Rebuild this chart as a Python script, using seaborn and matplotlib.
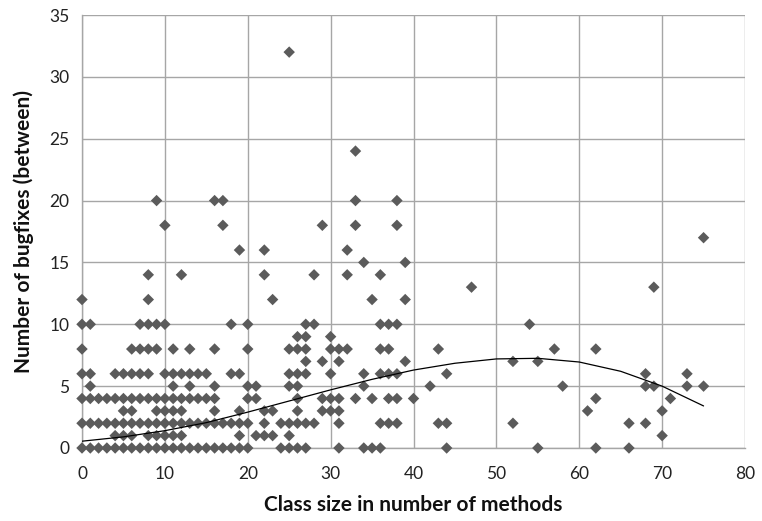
import matplotlib
matplotlib.use("Agg")
import matplotlib.pyplot as plt
import seaborn as sns
import pandas as pd

# ---- data (class size, bugfixes), grouped by bugfix level ----
bugfix_levels = [0, 1, 2, 3, 4, 5, 6, 7, 8, 9, 10, 12, 13, 14, 15, 16, 17, 18, 20, 24, 32]
sizes_at_0 = [0, 1, 2, 3, 4, 5, 6, 7, 8, 9, 10, 11, 12, 13, 14, 15, 16, 17, 18, 19, 20,
              24, 25, 26, 27, 31, 34, 35, 36, 44, 55, 62, 66]
sizes_at_1 = [4, 5, 6, 8, 9, 10, 11, 12, 19, 21, 22, 23, 25, 70]
sizes_at_2 = [0, 1, 2, 3, 4, 5, 6, 7, 8, 9, 10, 11, 12, 13, 14, 15, 16, 17, 18, 19, 20,
              22, 24, 25, 26, 27, 28, 31, 36, 37, 38, 43, 44, 52, 66, 68]
sizes_at_3 = [5, 6, 9, 10, 11, 12, 16, 19, 22, 23, 26, 29, 30, 31, 61, 70]
sizes_at_4 = [0, 1, 2, 3, 4, 5, 6, 7, 8, 9, 10, 11, 12, 13, 14, 15, 16,
              20, 21, 26, 29, 30, 31, 33, 35, 37, 38, 40, 62, 71]
sizes_at_5 = [1, 11, 13, 16, 20, 21, 25, 26, 34, 42, 58, 68, 69, 73, 75]
sizes_at_6 = [0, 1, 4, 5, 6, 7, 8, 10, 11, 12, 13, 14, 15, 18, 19, 25, 26, 27, 30, 34,
              36, 37, 38, 44, 68, 73]
sizes_at_7 = [27, 29, 31, 39, 52, 55]
sizes_at_8 = [0, 6, 7, 8, 9, 11, 13, 16, 20, 25, 26, 27, 30, 31, 32, 36, 37, 43, 57, 62]
sizes_at_9 = [26, 27, 30]
sizes_at_10 = [0, 1, 7, 8, 9, 10, 18, 20, 27, 28, 36, 37, 38, 54]
sizes_at_12 = [0, 8, 23, 35, 39]
sizes_at_13 = [47, 69]
sizes_at_14 = [8, 12, 22, 28, 32, 36]
sizes_at_15 = [34, 39]
sizes_at_16 = [19, 22, 32]
sizes_at_17 = [75]
sizes_at_18 = [10, 17, 29, 33, 38]
sizes_at_20 = [9, 16, 17, 33, 38]
sizes_at_24 = [33]
sizes_at_32 = [25]

sizes_per_level = [sizes_at_0, sizes_at_1, sizes_at_2, sizes_at_3, sizes_at_4, sizes_at_5,
                   sizes_at_6, sizes_at_7, sizes_at_8, sizes_at_9, sizes_at_10, sizes_at_12,
                   sizes_at_13, sizes_at_14, sizes_at_15, sizes_at_16, sizes_at_17,
                   sizes_at_18, sizes_at_20, sizes_at_24, sizes_at_32]

# trendline
trend_x = [0, 5, 10, 15, 20, 25, 30, 35, 40, 45, 50, 55, 60, 65, 70, 75]
trend_y = [0.55, 0.9, 1.4, 2.05, 2.9, 3.8, 4.7, 5.55, 6.3, 6.85, 7.2, 7.25, 6.95, 6.2, 5.0, 3.4]

x_ticks = [0, 10, 20, 30, 40, 50, 60, 70, 80]
y_ticks = [0, 5, 10, 15, 20, 25, 30, 35]
x_label = "Class size in number of methods"
y_label = "Number of bugfixes (between)"

rows = []
for level, sizes in zip(bugfix_levels, sizes_per_level):
    for s in sizes:
        rows.append((s, level))
df = pd.DataFrame(rows, columns=["size", "bugfixes"])
trend = pd.DataFrame({"size": trend_x, "bugfixes": trend_y})

sns.set_theme(style="white")
plt.rcParams["font.family"] = ["Lato", "DejaVu Sans"]

fig = plt.figure(figsize=(7.62, 5.21), dpi=100)
ax = fig.add_axes([82 / 762, 1 - 448 / 521, (745 - 82) / 762, (448 - 15) / 521])

grid_c = "#a6a6a6"
sns.scatterplot(data=df, x="size", y="bugfixes", ax=ax, marker="D", s=34,
                color="#5b5b5b", edgecolor="none", linewidth=0, clip_on=False, zorder=3)
sns.lineplot(data=trend, x="size", y="bugfixes", ax=ax, color="black", linewidth=0.9,
             zorder=4, sort=True)

ax.set_xlim(0, 80)
ax.set_ylim(0, 35)
ax.set_xticks(x_ticks)
ax.set_yticks(y_ticks)
ax.grid(True, color=grid_c, linewidth=1.0)
ax.set_axisbelow(True)
for side in ["top", "right"]:
    ax.spines[side].set_visible(False)
for side in ["left", "bottom"]:
    ax.spines[side].set_color(grid_c)
    ax.spines[side].set_linewidth(1.0)
ax.tick_params(axis="both", which="major", direction="out", length=4, width=1.0,
               color=grid_c, labelsize=12.5, labelcolor="#222222", pad=5)
ax.tick_params(axis="x", pad=9)
ax.set_xlabel(x_label, fontsize=15, fontweight="bold", color="#111111", labelpad=9)
ax.set_ylabel(y_label, fontsize=15, fontweight="bold", color="#111111", labelpad=11)

fig.savefig("out.png", dpi=100)
